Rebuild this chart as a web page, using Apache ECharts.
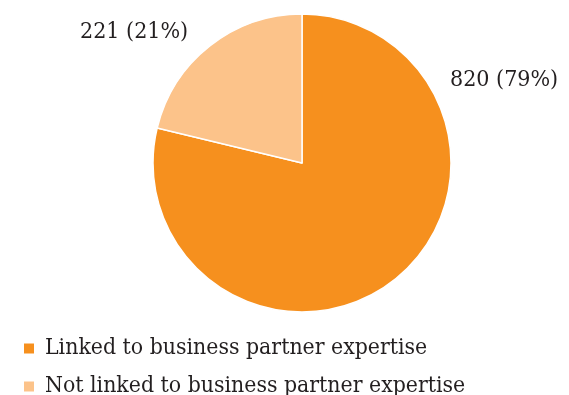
<!DOCTYPE html>
<html>
<head>
<meta charset="utf-8">
<script src="https://cdn.jsdelivr.net/npm/echarts@6/dist/echarts.min.js"></script>
<style>
  html, body { margin: 0; padding: 0; background: #ffffff; }
  #chart { width: 569px; height: 395px; }
</style>
</head>
<body>
<div id="chart"></div>
<script>
// Expertise link breakdown
const categories = ['Linked to business partner expertise', 'Not linked to business partner expertise'];
const counts = [820, 221];
const percents = [79, 21];
const colors = ['#F6901E', '#FCC38A'];

const chart = echarts.init(document.getElementById('chart'), null, { renderer: 'canvas' });

const serif = '"DejaVu Serif Condensed", "DejaVu Serif", serif';

// fixed label anchors for each slice
const labelAnchors = [
  { x: 450, y: 80, align: 'left' },
  { x: 80, y: 32, align: 'left' }
];

chart.setOption({
  animation: false,
  legend: {
    orient: 'vertical',
    left: 17,
    top: 332,
    height: 80,
    itemWidth: 12,
    itemHeight: 12,
    itemGap: 15,
    icon: 'rect',
    textStyle: {
      fontFamily: serif,
      fontSize: 22.8,
      color: '#231F20',
      padding: [0, 0, 0, 5]
    },
    data: categories
  },
  series: [{
    type: 'pie',
    center: [302, 163],
    radius: [0, 149],
    startAngle: 90,
    clockwise: true,
    itemStyle: { borderColor: '#ffffff', borderWidth: 1.5 },
    label: {
      show: true,
      position: 'outside',
      fontFamily: serif,
      fontSize: 23,
      color: '#231F20',
      formatter: (p) => counts[p.dataIndex] + ' (' + percents[p.dataIndex] + '%)'
    },
    labelLine: { show: false },
    labelLayout: (p) => ({
      x: labelAnchors[p.dataIndex].x,
      y: labelAnchors[p.dataIndex].y,
      align: labelAnchors[p.dataIndex].align,
      verticalAlign: 'middle'
    }),
    emphasis: { disabled: true },
    data: categories.map((name, i) => ({
      name: name,
      value: counts[i],
      itemStyle: { color: colors[i] }
    }))
  }]
});
</script>
</body>
</html>
